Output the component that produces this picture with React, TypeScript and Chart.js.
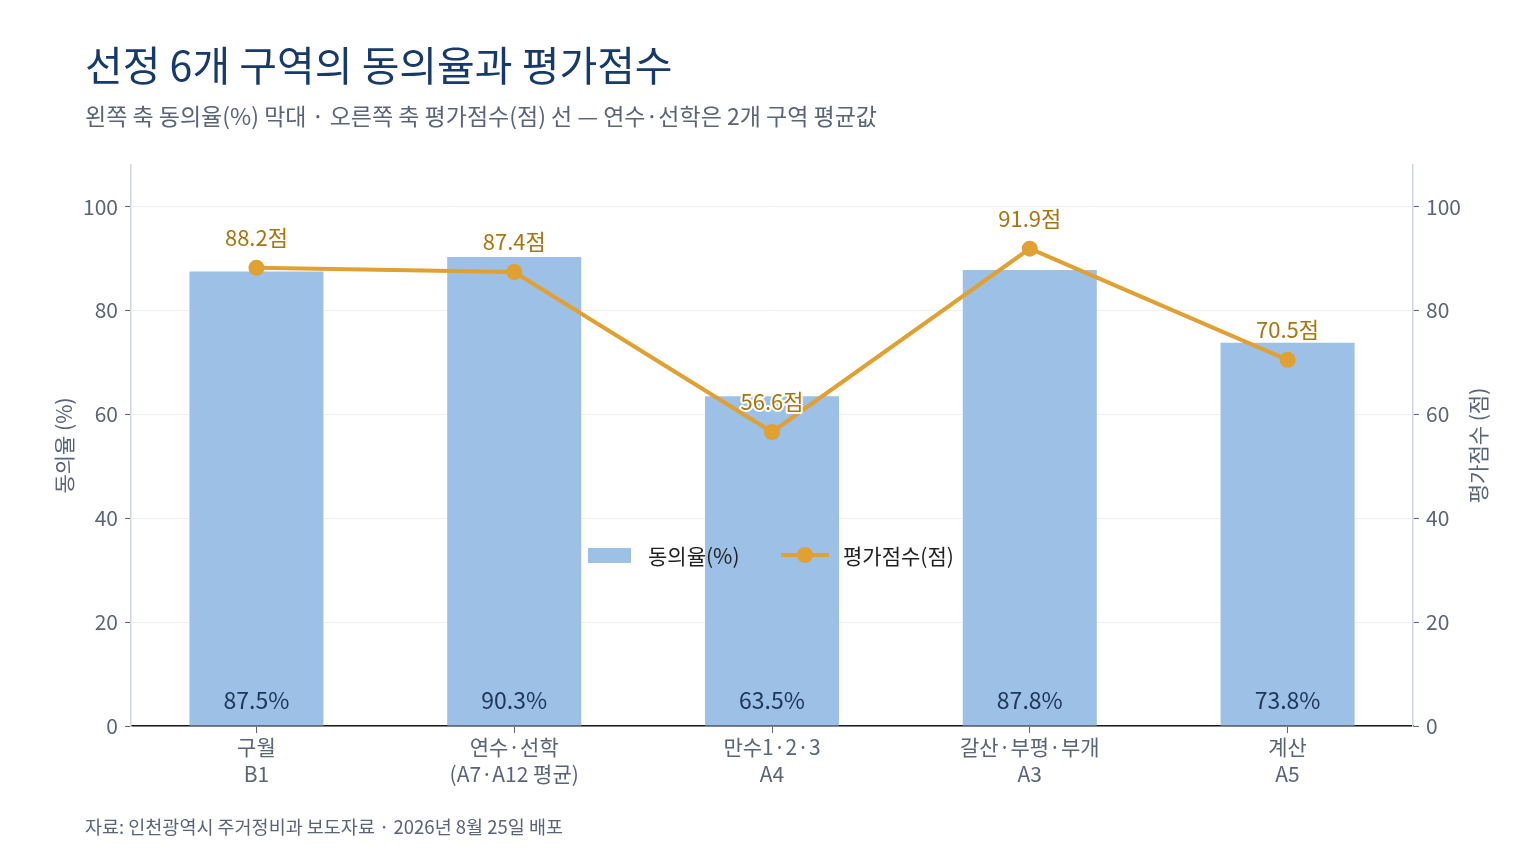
import React, { useEffect, useRef } from "react";
import { Chart, registerables, Plugin } from "chart.js";

Chart.register(...registerables);

const FONT = "'Noto Sans CJK KR', 'Noto Sans', sans-serif";

// 구역 이름 (두 줄)
const categories: string[][] = [
  ["구월", "B1"],
  ["연수·선학", "(A7·A12 평균)"],
  ["만수1·2·3", "A4"],
  ["갈산·부평·부개", "A3"],
  ["계산", "A5"],
];
const agreeRate = [87.5, 90.3, 63.5, 87.8, 73.8]; // 동의율(%)
const evalScore = [88.2, 87.4, 56.6, 91.9, 70.5]; // 평가점수(점)
const yTicks = [0, 20, 40, 60, 80, 100];

const BAR_COLOR = "#9dc0e7";
const LINE_COLOR = "#e0a032";
const SCORE_TEXT = "#a8750f";
const AXIS_TEXT = "#5a6478";

const labelsPlugin: Plugin = {
  id: "customLabels",
  afterDatasetsDraw(chart) {
    const ctx = chart.ctx;
    const area = chart.chartArea;
    ctx.save();

    // 막대 안쪽 하단 값
    const barMeta = chart.getDatasetMeta(0);
    ctx.font = `23px ${FONT}`;
    ctx.fillStyle = "#1d3557";
    ctx.textAlign = "center";
    ctx.textBaseline = "middle";
    barMeta.data.forEach((el, i) => {
      ctx.fillText(`${agreeRate[i].toFixed(1)}%`, el.x, area.bottom - 26);
    });

    // 점수 라벨 (흰 외곽선)
    const lineMeta = chart.getDatasetMeta(1);
    ctx.font = `22px ${FONT}`;
    ctx.lineJoin = "round";
    lineMeta.data.forEach((el, i) => {
      const text = `${evalScore[i].toFixed(1)}점`;
      ctx.strokeStyle = "#ffffff";
      ctx.lineWidth = 4;
      ctx.strokeText(text, el.x, el.y - 30);
      ctx.fillStyle = SCORE_TEXT;
      ctx.fillText(text, el.x, el.y - 30);
    });

    // 범례 (차트 내부 중앙)
    const ly = 555;
    ctx.fillStyle = BAR_COLOR;
    ctx.fillRect(588, ly - 7, 43, 15);
    ctx.font = `21px ${FONT}`;
    ctx.fillStyle = "#1f1f1f";
    ctx.textAlign = "left";
    ctx.fillText("동의율(%)", 648, ly + 1);
    ctx.strokeStyle = LINE_COLOR;
    ctx.lineWidth = 4;
    ctx.beginPath();
    ctx.moveTo(781, ly);
    ctx.lineTo(829, ly);
    ctx.stroke();
    ctx.fillStyle = LINE_COLOR;
    ctx.beginPath();
    ctx.arc(805, ly, 8, 0, Math.PI * 2);
    ctx.fill();
    ctx.fillStyle = "#1f1f1f";
    ctx.fillText("평가점수(점)", 843, ly + 1);

    ctx.restore();
  },
  afterDraw(chart) {
    // 오른쪽 축 제목 (아래에서 위로)
    const ctx = chart.ctx;
    const area = chart.chartArea;
    ctx.save();
    ctx.translate(1478, (area.top + area.bottom) / 2);
    ctx.rotate(-Math.PI / 2);
    ctx.font = `21px ${FONT}`;
    ctx.fillStyle = AXIS_TEXT;
    ctx.textAlign = "center";
    ctx.textBaseline = "middle";
    ctx.fillText("평가점수 (점)", 0, 0);
    ctx.restore();
  },
};

const App: React.FC = () => {
  const chartRef = useRef<HTMLCanvasElement>(null);

  useEffect(() => {
    if (!chartRef.current) return;

    const tickOpts = {
      color: AXIS_TEXT,
      font: { family: FONT, size: 21 },
      padding: 7,
    };
    const idx = categories.map((_, i) => i);

    const chart = new Chart(chartRef.current, {
      type: "bar",
      data: {
        datasets: [
          {
            type: "bar",
            label: "동의율(%)",
            data: idx.map((i) => ({ x: i, y: agreeRate[i] })),
            backgroundColor: BAR_COLOR,
            barPercentage: 0.52,
            categoryPercentage: 1,
            yAxisID: "y",
            order: 2,
          },
          {
            type: "line",
            label: "평가점수(점)",
            data: idx.map((i) => ({ x: i, y: evalScore[i] })),
            borderColor: LINE_COLOR,
            backgroundColor: LINE_COLOR,
            borderWidth: 4,
            pointRadius: 8,
            pointBackgroundColor: LINE_COLOR,
            pointBorderWidth: 0,
            tension: 0,
            yAxisID: "y1",
            order: 1,
          },
        ],
      },
      options: {
        animation: false,
        responsive: false,
        maintainAspectRatio: false,
        layout: { padding: { left: 51, right: 40, top: 165, bottom: 68 } },
        plugins: {
          legend: { display: false },
          tooltip: { enabled: false },
        },
        scales: {
          x: {
            type: "linear",
            min: -0.4866,
            max: 4.4866,
            offset: false,
            afterBuildTicks: (s) => {
              s.ticks = idx.map((v) => ({ value: v }));
            },
            grid: {
              offset: false,
              drawOnChartArea: false,
              tickLength: 7,
              tickColor: "#5a6478",
            },
            border: { color: "#1a1a1a", width: 1.5 },
            ticks: {
              color: AXIS_TEXT,
              font: { family: FONT, size: 21, lineHeight: 1.3 },
              padding: 0,
              callback: (v) => categories[Number(v)] ?? "",
            },
            afterFit: (s) => {
              s.height = 70;
            },
          },
          y: {
            position: "left",
            min: 0,
            max: 108,
            afterBuildTicks: (s) => {
              s.ticks = yTicks.map((v) => ({ value: v }));
            },
            grid: {
              color: "#edf1f7",
              tickColor: "#5a6478",
              tickLength: 6,
            },
            border: { color: "#cfd6e0", width: 1.5 },
            ticks: tickOpts,
            title: {
              display: true,
              text: "동의율 (%)",
              color: AXIS_TEXT,
              font: { family: FONT, size: 21 },
              padding: 0,
            },
            afterFit: (s) => {
              s.width = 80;
            },
          },
          y1: {
            position: "right",
            min: 0,
            max: 108,
            afterBuildTicks: (s) => {
              s.ticks = yTicks.map((v) => ({ value: v }));
            },
            grid: {
              drawOnChartArea: false,
              tickColor: "#5a6478",
              tickLength: 6,
            },
            border: { color: "#cfd6e0", width: 1.5 },
            ticks: tickOpts,
            afterFit: (s) => {
              s.width = 83;
            },
          },
        },
      },
      plugins: [labelsPlugin],
    });

    return () => {
      chart.destroy();
    };
  }, []);

  return (
    <div
      style={{
        position: "absolute",
        left: 0,
        top: 0,
        width: 1536,
        height: 864,
        background: "#ffffff",
        fontFamily: FONT,
      }}
    >
      <canvas
        ref={chartRef}
        width={1536}
        height={864}
        style={{ position: "absolute", left: 0, top: 0, width: 1536, height: 864 }}
      />
      <div
        style={{
          position: "absolute",
          left: 85,
          top: 39,
          fontSize: 41,
          lineHeight: "48px",
          fontWeight: 400,
          color: "#173a6b",
          whiteSpace: "nowrap",
        }}
      >
        선정 6개 구역의 동의율과 평가점수
      </div>
      <div
        style={{
          position: "absolute",
          left: 85,
          top: 100,
          fontSize: 23,
          lineHeight: "30px",
          color: AXIS_TEXT,
          whiteSpace: "nowrap",
        }}
      >
        왼쪽 축 동의율(%) 막대 · 오른쪽 축 평가점수(점) 선 — 연수·선학은 2개 구역 평균값
      </div>
      <div
        style={{
          position: "absolute",
          left: 85,
          top: 814,
          fontSize: 18.5,
          lineHeight: "24px",
          color: AXIS_TEXT,
          whiteSpace: "nowrap",
        }}
      >
        자료: 인천광역시 주거정비과 보도자료 · 2026년 8월 25일 배포
      </div>
    </div>
  );
};

export default App;
